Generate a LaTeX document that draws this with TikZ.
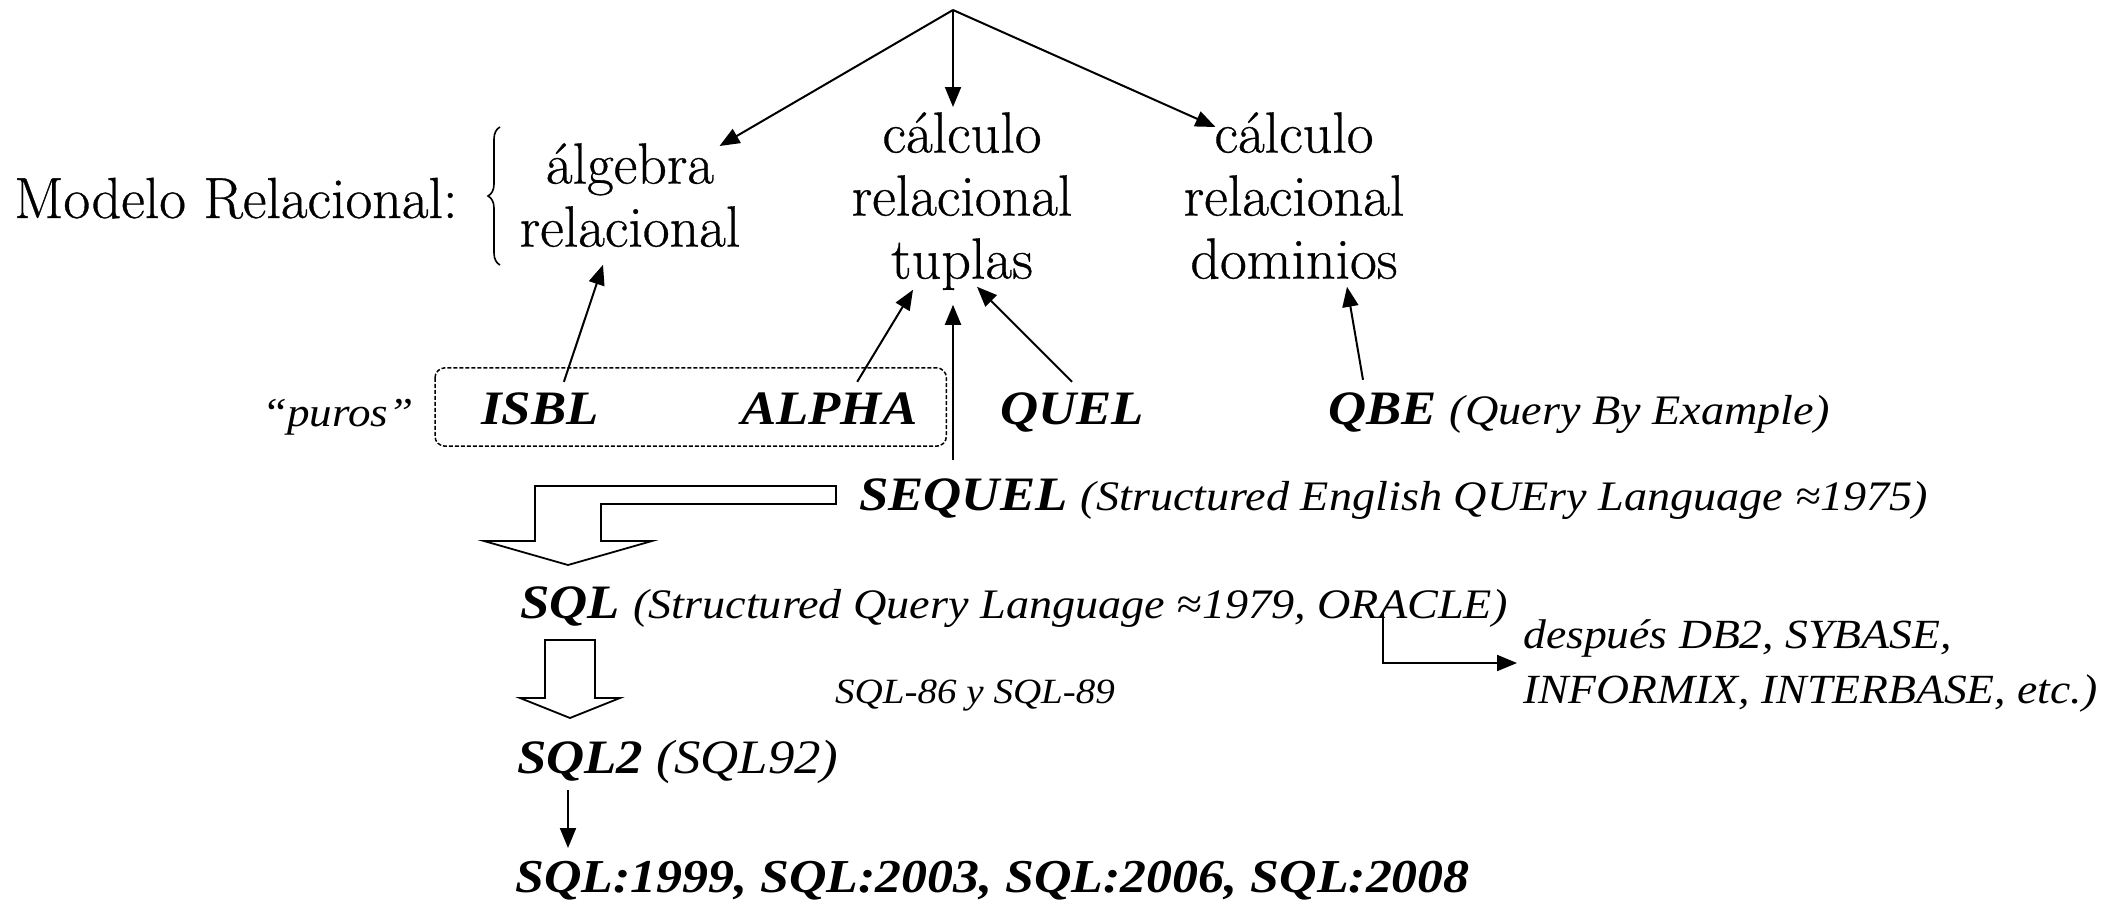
\documentclass[tikz,border=0pt]{standalone}
\usepackage{fontspec}
\newfontfamily\tnr[FakeStretch=1.1]{Liberation Serif}
\newfontfamily\pal[FakeBold=0.6]{Latin Modern Roman}
\usetikzlibrary{arrows.meta,calc,decorations.pathreplacing}
\newcommand\pdesc[1]{{\mdseries\fontsize{42}{48}\selectfont #1}}
\begin{document}
\begin{tikzpicture}[x=1pt,y=-1pt,
  pal/.style={font=\pal\fontsize{58}{63}\selectfont, inner sep=0pt, align=center, anchor=north},
  lang/.style={font=\tnr\itshape\fontsize{48}{56}\selectfont, inner sep=0pt, anchor=base west, text height=34pt, text depth=10pt},
  arr/.style={line width=2pt, -{Triangle[length=20pt,width=16pt]}},
  blk/.style={line width=1.8pt, fill=white, line join=miter},
  dashbox/.style={line width=1.5pt, dash pattern=on 4pt off 2pt, rounded corners=10pt}
]
\useasboundingbox (0,0) rectangle (2114,906);

% top level
\coordinate (apex) at (953,10);
\node[font=\pal\fontsize{58}{63}\selectfont, inner sep=0pt, anchor=base west] (mr) at (14,218) {Modelo Relacional:};
\coordinate (brb) at (500,265);
\coordinate (brt) at (500,127);
\draw[line width=1.6pt, decorate, decoration={brace, amplitude=12pt}] (brb) -- (brt);

\node[pal] (alg) at (630,143) {\rule{0pt}{40pt}álgebra\\relacional\rule[-12pt]{0pt}{12pt}};
\node[pal] (tup) at (962,112) {\rule{0pt}{40pt}cálculo\\relacional\\tuplas\rule[-12pt]{0pt}{12pt}};
\node[pal] (dom) at (1294,112) {\rule{0pt}{40pt}cálculo\\relacional\\dominios\rule[-12pt]{0pt}{12pt}};

\draw[arr] (apex) -- ([shift={(-21,3)}]alg.north east);
\draw[arr] (apex) -- ($(apex |- tup.north)+(0,-5)$);
\draw[arr] (apex) -- ([shift={(32,15)}]dom.north west);

% languages
\node[font=\tnr\itshape\fontsize{41}{46}\selectfont, inner sep=0pt, anchor=base west] (puros) at (262,426) {“puros”};
\node[lang] (isbl) at (481,424) {\bfseries ISBL};
\node[lang] (alpha) at (741,424) {\bfseries ALPHA};
\node[lang] (quel) at (1000,424) {\bfseries QUEL};
\node[lang] (qbe) at (1328,424) {\bfseries QBE \pdesc{(Query By Example)}};
\node[lang] (seq) at (859,510) {\bfseries SEQUEL \pdesc{(Structured English QUEry Language ≈1975)}};
\node[lang] (sql) at (520,618) {\bfseries SQL \pdesc{(Structured Query Language ≈1979, ORACLE)}};
\node[font=\tnr\itshape\fontsize{41.5}{55}\selectfont, inner sep=0pt, anchor=north west, align=left] (desp) at (1523,618) {\rule{0pt}{30pt}después DB2, SYBASE,\\INFORMIX, INTERBASE, etc.)};
\node[font=\tnr\itshape\fontsize{35.5}{42}\selectfont, inner sep=0pt, anchor=base west] (s86) at (835,703) {SQL-86 y SQL-89};
\node[lang] (sql2) at (517,773) {{\bfseries SQL2} (SQL92)};
\node[lang, font=\tnr\itshape\fontsize{47.2}{56}\selectfont] (sql99) at (515,892) {\bfseries SQL:1999, SQL:2003, SQL:2006, SQL:2008};

\draw[dashbox] ($(isbl.north west)+(-46,-22)$) rectangle ($(alpha.south east)+(29,12)$);

\draw[arr] ([shift={(24,-8)}]isbl.north) -- ([shift={(-27,6)}]alg.south);
\draw[arr] ([shift={(28,-8)}]alpha.north) -- ([shift={(-49,-1)}]tup.south);
\draw[arr] ($(apex |- seq.north)+(0,-16)$) -- ($(apex |- tup.south)+(0,14)$);
\draw[arr] ([shift={(0,-8)}]quel.north) -- ([shift={(15,-4)}]tup.south);
\draw[arr] ([shift={(35,-10)}]qbe.north west) -- ([shift={(53,-4)}]dom.south);

% block arrows
\draw[blk] ($(seq.base west)+(-23,-24)$) -- ++(-301,0) -- ++(0,55) -- ++(-51,0) -- ++(84,24) -- ++(84,-24) -- ++(-51,0) -- ++(0,-37) -- ++(235,0) -- cycle;
\draw[blk] ($(sql.base west)+(25,22)$) -- ++(50,0) -- ++(0,58) -- ++(25,0) -- ++(-50,20) -- ++(-50,-20) -- ++(25,0) -- cycle;

\draw[arr] ($(sql2.base west)+(51,17)$) -- ($(sql99.base west)+(53,-44)$);
\draw[arr] ($(sql.base west)+(863,-5)$) |- ($(desp.north west)+(-6,45)$);
\end{tikzpicture}
\end{document}
